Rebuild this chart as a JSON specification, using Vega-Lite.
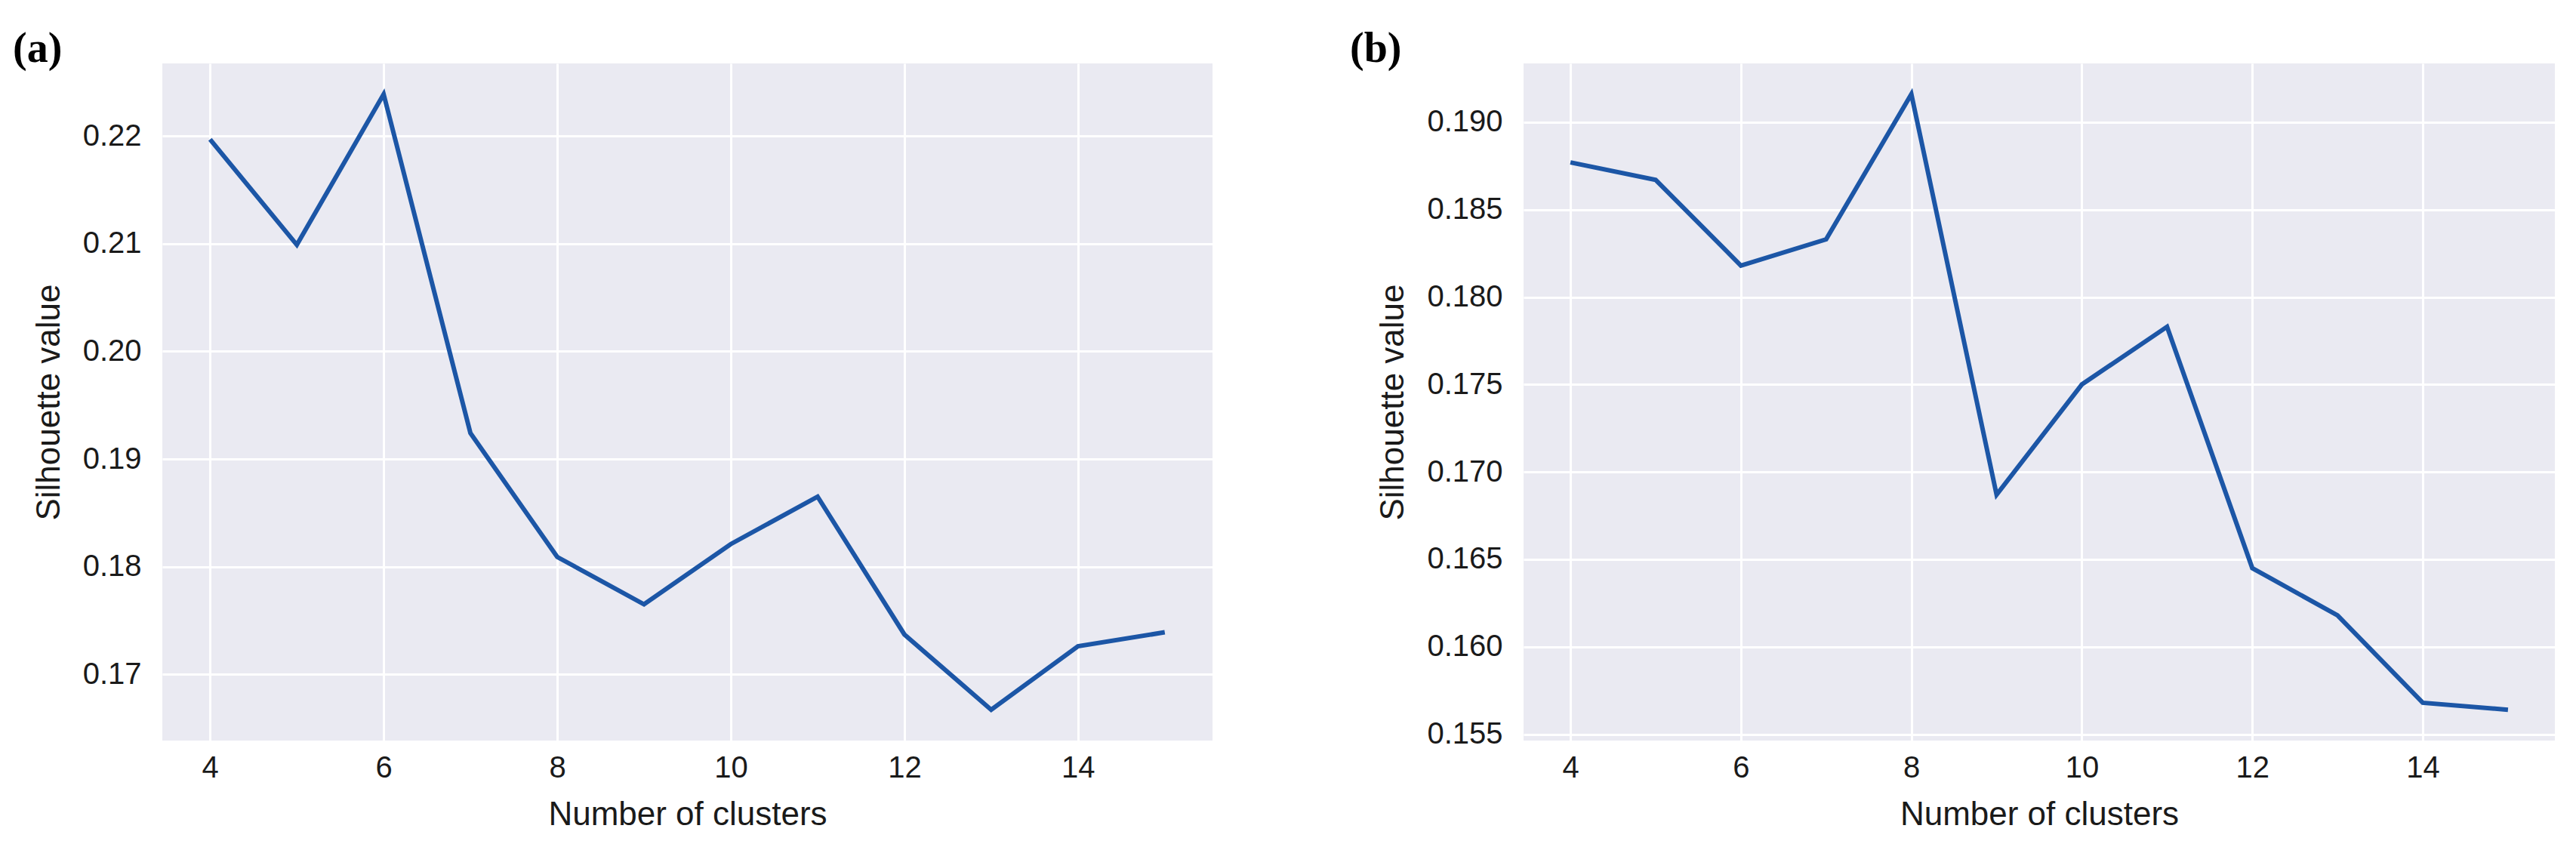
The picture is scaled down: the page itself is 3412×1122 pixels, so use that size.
{
  "$schema": "https://vega.github.io/schema/vega-lite/v6.json",
  "autosize": {"type": "none"},
  "padding": {"left": 215, "top": 84, "right": 3197, "bottom": 141},
  "background": "white",
  "datasets": {
    "a": [
      {"k": 4, "s": 0.2197}, {"k": 5, "s": 0.2099}, {"k": 6, "s": 0.2239}, {"k": 7, "s": 0.1924},
      {"k": 8, "s": 0.1809}, {"k": 9, "s": 0.1765}, {"k": 10, "s": 0.1821}, {"k": 11, "s": 0.1865},
      {"k": 12, "s": 0.1737}, {"k": 13, "s": 0.1667}, {"k": 14, "s": 0.1726}, {"k": 15, "s": 0.1739}
    ],
    "b": [
      {"k": 4, "s": 0.1877}, {"k": 5, "s": 0.1867}, {"k": 6, "s": 0.1818}, {"k": 7, "s": 0.1833},
      {"k": 8, "s": 0.1916}, {"k": 9, "s": 0.1687}, {"k": 10, "s": 0.1750}, {"k": 11, "s": 0.1783},
      {"k": 12, "s": 0.1645}, {"k": 13, "s": 0.1618}, {"k": 14, "s": 0.1568}, {"k": 15, "s": 0.1564}
    ]
  },
  "config": {
    "view": {"fill": "#EAEAF2", "stroke": null},
    "axis": {
      "grid": true, "gridColor": "#FFFFFF", "gridWidth": 3, "ticks": false, "domain": false,
      "labelFont": "Liberation Sans", "labelFontSize": 40, "labelColor": "#1a1a1a",
      "titleFont": "Liberation Sans", "titleFontSize": 44, "titleFontWeight": "normal", "titleColor": "#1a1a1a"
    },
    "axisX": {"labelPadding": 16, "titlePadding": 20},
    "axisY": {"labelPadding": 28, "titlePadding": 22},
    "title": {"font": "Liberation Serif", "fontSize": 56, "fontWeight": "bold", "anchor": "start", "frame": "group", "color": "#000000", "offset": -10}
  },
  "bounds": "flush",
  "spacing": 412,
  "hconcat": [
    {
      "width": 1391, "height": 897,
      "title": {"text": "(a)", "dx": -198},
      "data": {"name": "a"},
      "mark": {"type": "line", "color": "#1c56a6", "strokeWidth": 6},
      "encoding": {
        "x": {"field": "k", "type": "quantitative", "scale": {"domain": [3.45, 15.55], "nice": false, "zero": false},
              "axis": {"values": [4, 6, 8, 10, 12, 14], "title": "Number of clusters"}},
        "y": {"field": "s", "type": "quantitative", "scale": {"domain": [0.16384, 0.22676], "nice": false, "zero": false},
              "axis": {"values": [0.17, 0.18, 0.19, 0.2, 0.21, 0.22], "format": ".2f", "title": "Silhouette value"}}
      }
    },
    {
      "width": 1366, "height": 897,
      "title": {"text": "(b)", "dx": -230},
      "data": {"name": "b"},
      "mark": {"type": "line", "color": "#1c56a6", "strokeWidth": 6},
      "encoding": {
        "x": {"field": "k", "type": "quantitative", "scale": {"domain": [3.45, 15.55], "nice": false, "zero": false},
              "axis": {"values": [4, 6, 8, 10, 12, 14], "title": "Number of clusters"}},
        "y": {"field": "s", "type": "quantitative", "scale": {"domain": [0.15464, 0.19336], "nice": false, "zero": false},
              "axis": {"values": [0.155, 0.16, 0.165, 0.17, 0.175, 0.18, 0.185, 0.19], "format": ".3f", "title": "Silhouette value"}}
      }
    }
  ]
}
